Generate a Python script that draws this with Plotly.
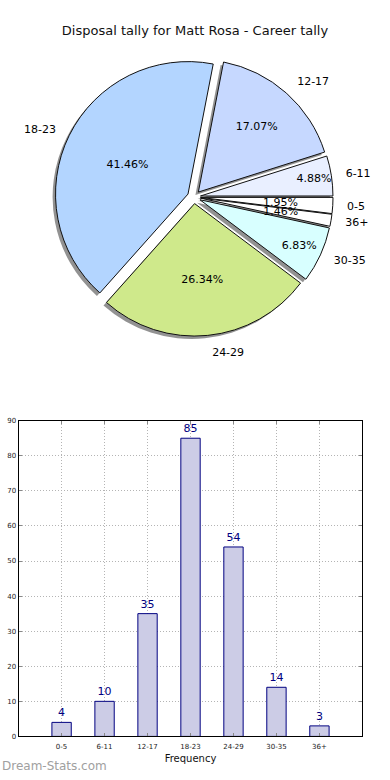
import plotly.graph_objects as go

# ---- data ----
categories = ["0-5", "6-11", "12-17", "18-23", "24-29", "30-35", "36+"]
counts = [4, 10, 35, 85, 54, 14, 3]
pie_colors = ["#ffffff", "#e9efff", "#c6d8ff", "#b3d5ff", "#cfe98b", "#d8ffff", "#ffffff"]
y_ticks = [0, 10, 20, 30, 40, 50, 60, 70, 80, 90]
title_text = "Disposal tally for Matt Rosa - Career tally"
x_title = "Frequency"
watermark = "Dream-Stats.com"

W, H = 390, 780
FONT = "DejaVu Sans"

def px_x(v):
    return v / W

def px_y(v):
    return 1 - v / H

def dom(cx, cy, half):
    return dict(x=[px_x(cx - half), px_x(cx + half)], y=[px_y(cy + half), px_y(cy - half)])

# pie geometry (pixels)
cx, cy, half = 198.0, 195.0, 142.0
total = sum(counts)
small = [c / total < 0.03 for c in counts]

pull = [0.05] * len(counts)
common = dict(labels=categories, values=counts, sort=False, direction="counterclockwise",
              rotation=90, pull=pull, hoverinfo="skip", showlegend=False)
clear = dict(colors=["rgba(0,0,0,0)"] * len(counts), line=dict(width=0))

fig = go.Figure()

# shadow
fig.add_trace(go.Pie(**common, domain=dom(cx - 3, cy + 3, half),
                     marker=dict(colors=["rgba(110,110,110,0.75)"] * len(counts),
                                 line=dict(width=0)),
                     textinfo="none"))
# main pie with percentages (large slices)
fig.add_trace(go.Pie(**common, domain=dom(cx, cy, half),
                     marker=dict(colors=pie_colors, line=dict(color="#111111", width=1)),
                     texttemplate=["" if s else "%{percent:.2%}" for s in small],
                     textposition="inside", insidetextorientation="horizontal",
                     textfont=dict(family=FONT, size=11, color="#000000")))
# percentages of the thin slices, placed nearer the centre
fig.add_trace(go.Pie(**common, domain=dom(cx, cy, half * 0.66), marker=clear,
                     texttemplate=["%{percent:.2%}" if s else "" for s in small],
                     textposition="inside", insidetextorientation="horizontal",
                     textfont=dict(family=FONT, size=11, color="#000000")))
# outside category labels, split over three transparent pies so that
# neighbouring labels are not pushed apart by the label-collision logic
label_groups = [[0, 2, 5], [1, 3, 6], [4]]
for grp in label_groups:
    fig.add_trace(go.Pie(**common, domain=dom(cx, cy, half * 1.08), marker=clear,
                         texttemplate=["%{label}" if i in grp else "" for i in range(len(categories))],
                         textposition="outside",
                         outsidetextfont=dict(family=FONT, size=11, color="#000000")))

# bar chart
fig.add_trace(go.Bar(x=categories, y=counts, width=0.45,
                     marker=dict(color="#ccccE6", line=dict(color="#000080", width=1)),
                     text=[str(c) for c in counts], textposition="outside",
                     textfont=dict(family=FONT, size=11, color="#000080"),
                     cliponaxis=False, showlegend=False, xaxis="x", yaxis="y"))

grid = dict(showgrid=True, gridcolor="#b4b4b4", griddash="1px,2px", gridwidth=1)

fig.update_layout(
    width=W, height=H,
    margin=dict(l=0, r=0, t=0, b=0),
    paper_bgcolor="white", plot_bgcolor="white",
    font=dict(family=FONT, color="#000000"),
    uniformtext=dict(minsize=11, mode="show"),
    title=dict(text=title_text, x=0.5, xanchor="center", y=px_y(30), yanchor="middle",
               yref="container", font=dict(family=FONT, size=13, color="#111111")),
    xaxis=dict(domain=[px_x(19), px_x(370)], anchor="y", range=[-1, 7],
               showline=True, linecolor="#000000", linewidth=1, mirror="ticks",
               ticks="inside", ticklen=3, tickcolor="#888888", ticklabelstandoff=3,
               tickfont=dict(family=FONT, size=7, color="#222222"),
               title=dict(text=x_title, font=dict(family=FONT, size=10, color="#111111"),
                          standoff=5), **grid),
    yaxis=dict(domain=[px_y(740), px_y(421)], anchor="x", range=[0, 90],
               tickvals=y_ticks,
               showline=True, linecolor="#000000", linewidth=1, mirror="ticks",
               ticks="inside", ticklen=3, tickcolor="#888888",
               tickfont=dict(family=FONT, size=7, color="#222222"), zeroline=False, **grid),
    annotations=[dict(text=watermark, x=0, y=px_y(770), xref="paper", yref="paper",
                      xanchor="left", yanchor="middle", showarrow=False,
                      font=dict(family=FONT, size=12, color="#a0a0a0"))],
)

fig.write_html("out.html",
               config={"displayModeBar": False, "staticPlot": True},
               post_script="document.documentElement.style.margin='0';"
                           "document.body.style.margin='0';"
                           "document.body.style.overflow='hidden';"
                           "document.documentElement.style.overflow='hidden';")
